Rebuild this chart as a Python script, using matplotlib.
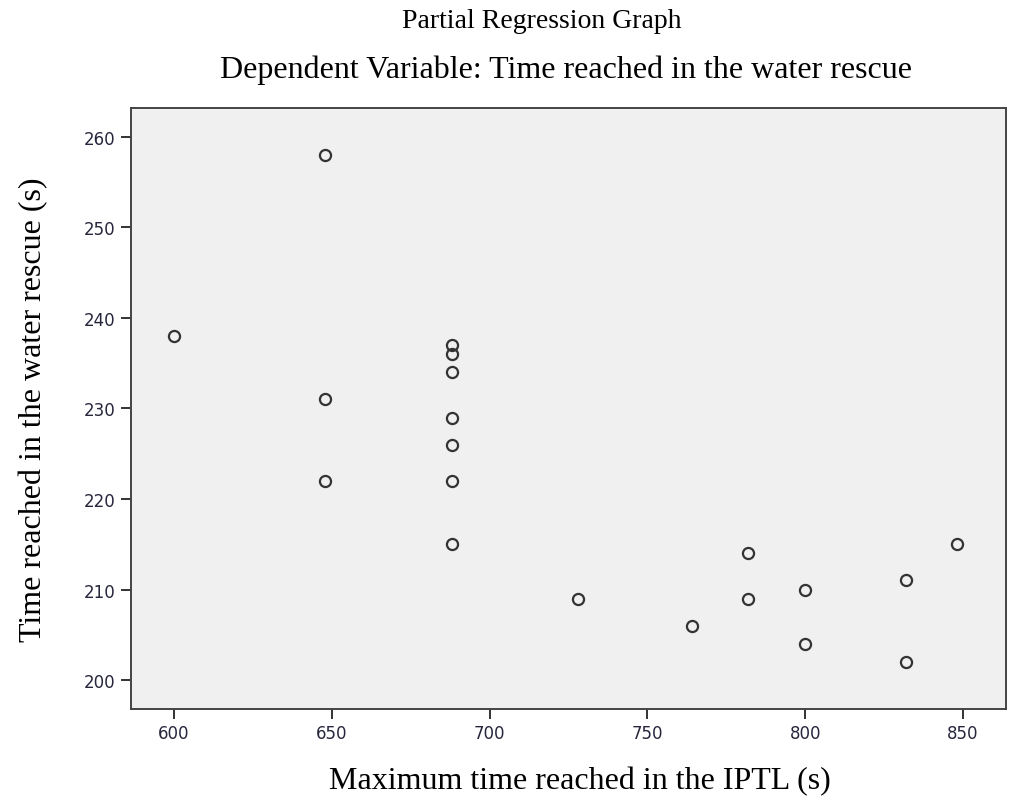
import matplotlib
matplotlib.use("Agg")
import matplotlib.pyplot as plt

# values
iptl_max = [600, 648, 648, 648, 688, 688, 688, 688, 688, 688, 688,
            728, 764, 782, 782, 800, 800, 832, 832, 848]
water_rescue = [238, 258, 231, 222, 237, 236, 234, 229, 226, 222, 215,
                209, 206, 214, 209, 210, 204, 211, 202, 215]
x_ticks = [600, 650, 700, 750, 800, 850]
y_ticks = [200, 210, 220, 230, 240, 250, 260]

serif = ["Liberation Serif", "DejaVu Serif"]
tick_color = "#26263c"

fig = plt.figure(figsize=(10.09, 8.03), dpi=100)
ax = fig.add_axes([0.1298, 0.1158, 0.8672, 0.7485])
ax.set_facecolor("#f0f0f0")

ax.plot(iptl_max, water_rescue, linestyle="none", marker="o", markersize=8,
        markerfacecolor="none", markeredgecolor="#333333", markeredgewidth=1.6)

ax.set_xlim(586.4, 863.6)
ax.set_ylim(196.8, 263.2)
ax.set_xticks(x_ticks)
ax.set_yticks(y_ticks)
ax.tick_params(direction="out", length=7, width=1.4, color="#333333",
               labelsize=12, labelcolor=tick_color, pad=4)

for s in ax.spines.values():
    s.set_color("#444444")
    s.set_linewidth(1.4)

ax.set_xlabel("Maximum time reached in the IPTL (s)", fontsize=23,
              family=serif, labelpad=18)
ax.xaxis.set_label_coords(0.513, -0.095)
ax.set_ylabel("Time reached in the water rescue (s)", fontsize=23,
              family=serif, labelpad=26)

fig.text(542 / 1009, 1 - 22 / 803, "Partial Regression Graph", fontsize=20,
         family=serif, ha="center", va="center")
fig.text(566 / 1009, 1 - 70 / 803,
         "Dependent Variable: Time reached in the water rescue", fontsize=23,
         family=serif, ha="center", va="center")

fig.savefig("out.png", dpi=100)
